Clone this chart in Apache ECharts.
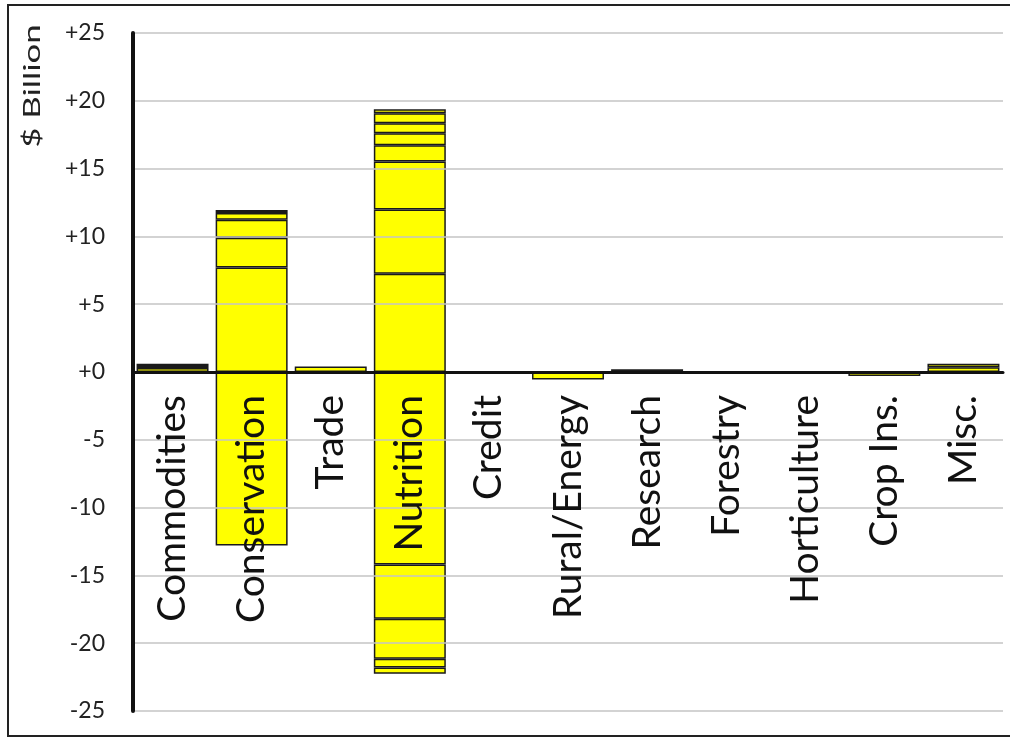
<!DOCTYPE html>
<html>
<head>
<meta charset="utf-8">
<script src="https://cdn.jsdelivr.net/npm/echarts@6/dist/echarts.min.js"></script>
<style>
  html, body { margin: 0; padding: 0; background: #fff; }
  #chart { width: 1010px; height: 738px; }
</style>
</head>
<body>
<div id="chart"></div>
<script>
// farm bill programs, change by title ($ billion), stacked by provision
const categories = ['Commodities', 'Conservation', 'Trade', 'Nutrition', 'Credit', 'Rural/Energy',
  'Research', 'Forestry', 'Horticulture', 'Crop Ins.', 'Misc.'];

// positive layers (bottom to top)
const pos1 = [0.3, 7.7, 0.4, 7.25, null, null, 0.2, null, null, null, 0.35];
const pos2 = [0.15, 2.2, null, 4.73, null, null, null, null, null, null, 0.25];
const pos3 = [0.15, 1.33, null, 3.55, null, null, null, null, null, null, null];
const pos4 = [null, 0.5, null, 1.19, null, null, null, null, null, null, null];
const pos5 = [null, 0.22, null, 0.88, null, null, null, null, null, null, null];
const pos6 = [null, null, null, 0.74, null, null, null, null, null, null, null];
const pos7 = [null, null, null, 0.74, null, null, null, null, null, null, null];
const pos8 = [null, null, null, 0.3, null, null, null, null, null, null, null];

// negative layers (top to bottom)
const neg1 = [null, -12.8, null, -14.2, null, -0.55, null, null, null, -0.3, null];
const neg2 = [null, null, null, -4.0, null, null, null, null, null, null, null];
const neg3 = [null, null, null, -2.95, null, null, null, null, null, null, null];
const neg4 = [null, null, null, -0.65, null, null, null, null, null, null, null];
const neg5 = [null, null, null, -0.46, null, null, null, null, null, null, null];

const yTicks = [-25, -20, -15, -10, -5, 0, 5, 10, 15, 20, 25];

const layers = [pos1, pos2, pos3, pos4, pos5, pos6, pos7, pos8, neg1, neg2, neg3, neg4, neg5];

const chart = echarts.init(document.getElementById('chart'));

const font = 'Lato, "Open Sans", sans-serif';

chart.setOption({
  animation: false,
  backgroundColor: '#fff',
  grid: { left: 133, right: 7, top: 33, bottom: 27, containLabel: false, outerBoundsMode: 'none' },
  xAxis: {
    type: 'category',
    data: categories,
    z: 10,
    axisLine: { onZero: true, lineStyle: { color: '#111', width: 3 } },
    axisTick: { show: false },
    axisLabel: {
      rotate: 90,
      // labels sit at the grid bottom, pull them up to just under the zero line
      margin: -316,
      fontSize: 39,
      color: '#111',
      fontFamily: font,
      interval: 0
    },
    splitLine: { show: false }
  },
  yAxis: {
    type: 'value',
    min: yTicks[0],
    max: yTicks[yTicks.length - 1],
    interval: 5,
    z: 10,
    axisLine: { show: true, lineStyle: { color: '#111', width: 4 } },
    axisTick: { show: false },
    axisLabel: {
      margin: 28,
      fontSize: 23,
      color: '#222',
      fontFamily: font,
      formatter: v => (v >= 0 ? '+' + v : String(v))
    },
    splitLine: { lineStyle: { color: '#c4c4c4', width: 1.5 } }
  },
  series: layers.map((d, i) => ({
    type: 'bar',
    stack: 'total',
    data: d,
    barCategoryGap: '9%',
    itemStyle: { color: '#ffff00', borderColor: '#1a1a1a', borderWidth: 1.5 }
  })),
  graphic: [
    {
      type: 'rect',
      shape: { x: 8, y: 5, width: 1010, height: 731 },
      style: { fill: 'none', stroke: '#222', lineWidth: 2 },
      silent: true
    },
    {
      type: 'text',
      x: 32,
      y: 86,
      rotation: Math.PI / 2,
      scaleX: 1.45,
      style: {
        text: '$ Billion',
        fontSize: 24,
        fontFamily: font,
        fill: '#222',
        textAlign: 'center',
        textVerticalAlign: 'middle'
      }
    }
  ]
});
</script>
</body>
</html>
